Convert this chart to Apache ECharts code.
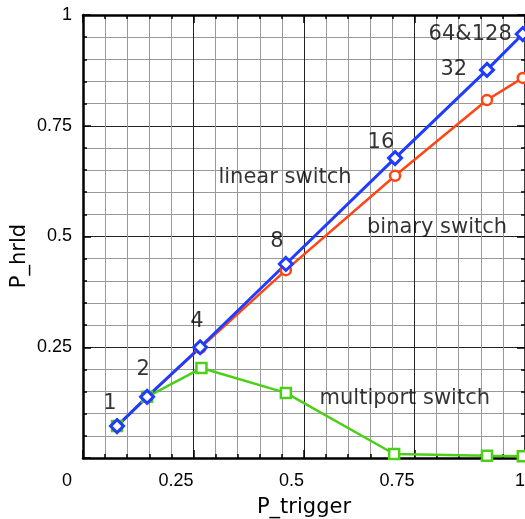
<!DOCTYPE html>
<html><head><meta charset="utf-8">
<script src="https://cdn.jsdelivr.net/npm/echarts@6/dist/echarts.min.js"></script>
<style>html,body{margin:0;padding:0;background:#fff}#c{width:525px;height:519px}</style>
</head><body><div id="c"></div>
<script>
// data
var xTrigger = [0.077, 0.145, 0.265, 0.459, 0.706, 0.914, 0.995];
var linearSwitch = [0.072, 0.138, 0.250, 0.438, 0.677, 0.876, 0.957];
var binarySwitch = [0.072, 0.138, 0.248, 0.424, 0.637, 0.808, 0.858];
var xMultiport = [0.077, 0.145, 0.268, 0.459, 0.704, 0.914, 0.995];
var multiportSwitch = [0.072, 0.138, 0.203, 0.147, 0.009, 0.005, 0.004];
var xTicks = [0, 0.25, 0.5, 0.75, 1];
var yTicks = [0.25, 0.5, 0.75, 1];
var annotations = [
  [0.061, 0.122, '1'], [0.136, 0.199, '2'], [0.258, 0.307, '4'], [0.439, 0.488, '8'],
  [0.674, 0.713, '16'], [0.839, 0.876, '32'], [0.876, 0.957, '64&128'],
  [0.457, 0.634, 'linear switch'], [0.801, 0.52, 'binary switch'], [0.728, 0.135, 'multiport switch']
];

function pairs(xs, ys){ return xs.map(function(x,i){ return [x, ys[i]]; }); }

var BLUE='#1f3cff', RED='#ff4514', GREEN='#4ccf17';
var tickStyle = {show:true, inside:true, length:8, lineStyle:{color:'#000', width:1.5}};
var minorTickStyle = {show:true, length:4, splitNumber:5, lineStyle:{color:'#000', width:1.5}};
var font = '"DejaVu Sans", sans-serif';
var tickFont = '"Liberation Sans", Arial, sans-serif';

var chart = echarts.init(document.getElementById('c'), null, {renderer:'canvas'});
chart.setOption({
  animation:false,
  backgroundColor:'#fff',
  grid:{left:83, right:0, top:15, bottom:61, containLabel:false, outerBoundsMode:'none'},
  xAxis:[{
    type:'value', min:0, max:1, interval:0.25, position:'bottom',
    name:'P_trigger', nameLocation:'middle', nameGap:39,
    nameTextStyle:{fontFamily:font, fontSize:21, color:'#000'},
    axisLine:{show:true, onZero:false, lineStyle:{color:'#000', width:2.5}},
    axisTick:tickStyle, minorTick:minorTickStyle,
    axisLabel:{show:true, margin:14, align:'right', fontFamily:tickFont, fontSize:18, color:'#000',
      formatter:function(v){ return xTicks.indexOf(v)<0 ? '' : (v===0 ? '{z|0}' : String(v)); },
      rich:{z:{fontFamily:tickFont, fontSize:18, color:'#000', padding:[0,11,0,0]}}},
    splitLine:{show:true, lineStyle:{color:'#222', width:1}},
    minorSplitLine:{show:true, lineStyle:{color:'#999', width:1}}
  },{
    type:'value', min:0, max:1, interval:0.25, position:'top',
    axisLine:{show:true, onZero:false, lineStyle:{color:'#000', width:2.5}},
    axisTick:tickStyle, minorTick:minorTickStyle,
    axisLabel:{show:false}, splitLine:{show:false}
  }],
  yAxis:[{
    type:'value', min:0, max:1, interval:0.25, position:'left',
    axisLine:{show:true, onZero:false, lineStyle:{color:'#000', width:2.5}},
    axisTick:tickStyle, minorTick:minorTickStyle,
    axisLabel:{show:true, margin:11, fontFamily:tickFont, fontSize:18, color:'#000',
      formatter:function(v){ return yTicks.indexOf(v)<0 ? '' : String(v); }},
    splitLine:{show:true, lineStyle:{color:'#222', width:1}},
    minorSplitLine:{show:true, lineStyle:{color:'#999', width:1}}
  },{
    type:'value', min:0, max:1, interval:0.25, position:'right',
    axisLine:{show:true, onZero:false, lineStyle:{color:'#000', width:2.5}},
    axisTick:tickStyle, minorTick:minorTickStyle,
    axisLabel:{show:false}, splitLine:{show:false}
  }],
  graphic:[{
    type:'text', x:20, y:256, rotation:Math.PI/2,
    style:{text:'P_hrld', fontFamily:font, fontSize:21, fill:'#000', align:'center', verticalAlign:'middle'}
  }],
  series:[{
    name:'multiport switch', type:'line', data:pairs(xMultiport, multiportSwitch),
    symbol:'rect', symbolSize:10, showAllSymbol:true,
    lineStyle:{color:GREEN, width:2.5}, itemStyle:{color:'#fff', borderColor:GREEN, borderWidth:2.5}
  },{
    name:'binary switch', type:'line', data:pairs(xTrigger, binarySwitch),
    symbol:'circle', symbolSize:10, showAllSymbol:true,
    lineStyle:{color:RED, width:2.5}, itemStyle:{color:'#fff', borderColor:RED, borderWidth:2.5}
  },{
    name:'linear switch', type:'line', data:pairs(xTrigger, linearSwitch),
    symbol:'diamond', symbolSize:[13,13], showAllSymbol:true,
    lineStyle:{color:BLUE, width:3}, itemStyle:{color:'#fff', borderColor:BLUE, borderWidth:3}
  },{
    name:'annotations', type:'scatter', symbolSize:0, silent:true,
    data:annotations.map(function(a){ return {value:[a[0],a[1]], name:a[2]}; }),
    label:{show:true, position:'inside', formatter:'{b}', fontFamily:font, fontSize:21, color:'#000', textBorderWidth:0},
    z:5
  }]
});
</script></body></html>
